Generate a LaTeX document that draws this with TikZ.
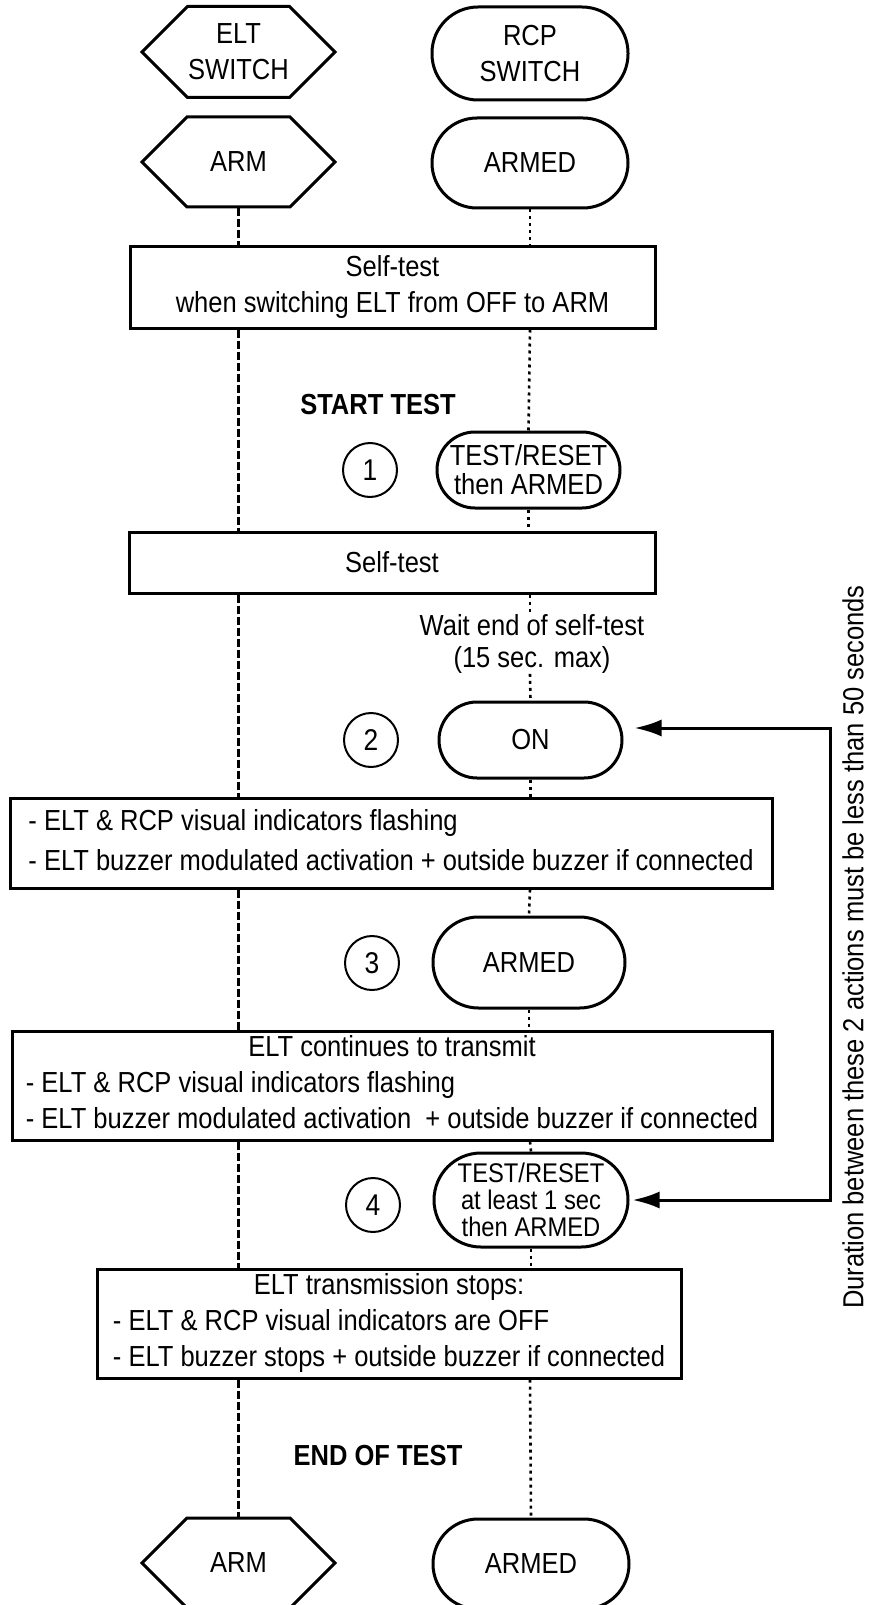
\documentclass[tikz,border=0pt]{standalone}
\usepackage{fontspec}
\setmainfont{Liberation Sans}[FakeStretch=0.88]
\usetikzlibrary{shapes.symbols,arrows.meta}

\begin{document}
\begin{tikzpicture}[x=0.5pt,y=-0.5pt]
\tikzstyle{every node} = [font=\fontsize{14.5}{18}\selectfont, inner sep=0pt]
\tikzstyle{hex} = [draw, line width=1.5pt, shape=signal, signal to=east and west, signal pointer angle=90, minimum width=96.5pt, minimum height=45.5pt, align=center]
\tikzstyle{pill} = [draw, line width=1.5pt, rectangle, rounded corners=22.5pt, minimum width=98pt, minimum height=45pt, align=center]
\tikzstyle{box} = [draw, line width=1.5pt, rectangle, align=center]
\tikzstyle{num} = [draw, line width=1pt, circle, minimum size=27pt, font=\fontsize{15}{16}\selectfont]
\tikzstyle{eltline} = [line width=1.3pt, dash pattern=on 4pt off 1.5pt]
\tikzstyle{rcpline} = [line width=1.3pt, dash pattern=on 1.5pt off 2pt]
\tikzstyle{dur} = [line width=1.5pt, {Latex[length=13.5pt,width=8.5pt]}-{Latex[length=13.5pt,width=8.5pt]}, shorten <=5.5pt, shorten >=1.5pt]

\useasboundingbox (0,0) rectangle (868,1605);

\node [hex] (elt) at (238.5, 52) {ELT\\SWITCH};
\node [pill, minimum height=46.5pt, rounded corners=23pt] (rcp) at (530, 53.5) {RCP\\SWITCH};
\node [hex, minimum height=45pt] (arm) at (238.5, 162) {ARM};
\node [pill] (armed) at (530, 163) {ARMED};

\node [box, minimum width=262.5pt, minimum height=40.5pt] (st1) at (392.5, 287.5) {Self-test\\when switching ELT from OFF to ARM};

\node [font=\fontsize{14.5}{18}\bfseries] (start) at (378, 405) {START TEST};
\node [num] (n1) at (370, 470) {1};
\node [pill, minimum width=91.5pt, minimum height=38pt, rounded corners=19pt, font=\fontsize{14.5}{14.5}\selectfont] (tr1) at (528.5, 470) {TEST/RESET\\then ARMED};

\node [box, minimum width=263pt, minimum height=30.5pt] (st2) at (392, 562.5) {Self-test};
\node [align=center, font=\fontsize{14.5}{16}\selectfont] (wait) at (532, 644) {Wait end of self-test\\(15 sec. max)};

\node [num] (n2) at (371, 740) {2};
\node [pill, minimum width=91.5pt, minimum height=38pt, rounded corners=19pt] (on) at (530.5, 740) {ON};

\node [box, minimum width=381pt, minimum height=45pt] (flash) at (391, 843) {\begin{tabular}{@{}l@{}}- ELT \& RCP visual indicators flashing\\[2pt]- ELT buzzer modulated activation + outside buzzer if connected\end{tabular}};

\node [num] (n3) at (372, 963) {3};
\node [pill, minimum width=96pt, minimum height=45.5pt, rounded corners=22.75pt] (arm3) at (529, 962.5) {ARMED};

\node [box, minimum width=380pt, minimum height=54.5pt] (cont) at (392, 1085.5) {\begin{tabular}{@{}l@{}}\multicolumn{1}{@{}c@{}}{ELT continues to transmit}\\- ELT \& RCP visual indicators flashing\\- ELT buzzer modulated activation \ + outside buzzer if connected\end{tabular}};

\node [num] (n4) at (373, 1205) {4};
\node [pill, minimum width=97pt, minimum height=47pt, rounded corners=23.5pt, font=\fontsize{13.5}{13.6}\selectfont] (tr4) at (531, 1200) {TEST/RESET\\at least 1 sec\\then ARMED};

\node [box, minimum width=292pt, minimum height=54.5pt] (stop) at (389, 1323.5) {\begin{tabular}{@{}l@{}}\multicolumn{1}{@{}c@{}}{ELT transmission stops:}\\- ELT \& RCP visual indicators are OFF\\- ELT buzzer stops + outside buzzer if connected\end{tabular}};

\node [font=\fontsize{14.5}{18}\bfseries] (end) at (378, 1455) {END OF TEST};

\node [hex, minimum height=45pt] (arm2) at (238.5, 1563) {ARM};
\node [pill] (armed2) at (531, 1564) {ARMED};

\node [rotate=90] (note) at (853, 947) {Duration between these 2 actions must be less than 50 seconds};

\draw [eltline] (arm.south) -- (arm.south |- st1.north);
\draw [eltline] (arm.south |- st1.south) -- (arm.south |- st2.north);
\draw [eltline] (arm.south |- st2.south) -- (arm.south |- flash.north);
\draw [eltline] (arm.south |- flash.south) -- (arm.south |- cont.north);
\draw [eltline] (arm.south |- cont.south) -- (arm.south |- stop.north);
\draw [eltline] (arm.south |- stop.south) -- (arm2.north);

\draw [rcpline] (armed.south) -- (armed.south |- st1.north);
\draw [rcpline] (armed.south |- st1.south) -- (tr1.north);
\draw [rcpline] (tr1.south) -- (tr1.south |- st2.north);
\draw [rcpline] (armed.south |- st2.south) -- (armed.south |- wait.north);
\draw [rcpline] (armed.south |- wait.south) -- (on.north);
\draw [rcpline] (on.south) -- (on.south |- flash.north);
\draw [rcpline] (armed.south |- flash.south) -- (arm3.north);
\draw [rcpline] (arm3.south) -- (arm3.south |- cont.north);
\draw [rcpline] (armed.south |- cont.south) -- (tr4.north);
\draw [rcpline] (tr4.south) -- (tr4.south |- stop.north);
\draw [rcpline] (armed.south |- stop.south) -- (armed2.north);

\coordinate (d1) at (830, 728);
\coordinate (d2) at (830, 1200);
\draw [dur] (d1 -| on.east) -- (d1) -- (d2) -- (d2 -| tr4.east);
\end{tikzpicture}
\end{document}
